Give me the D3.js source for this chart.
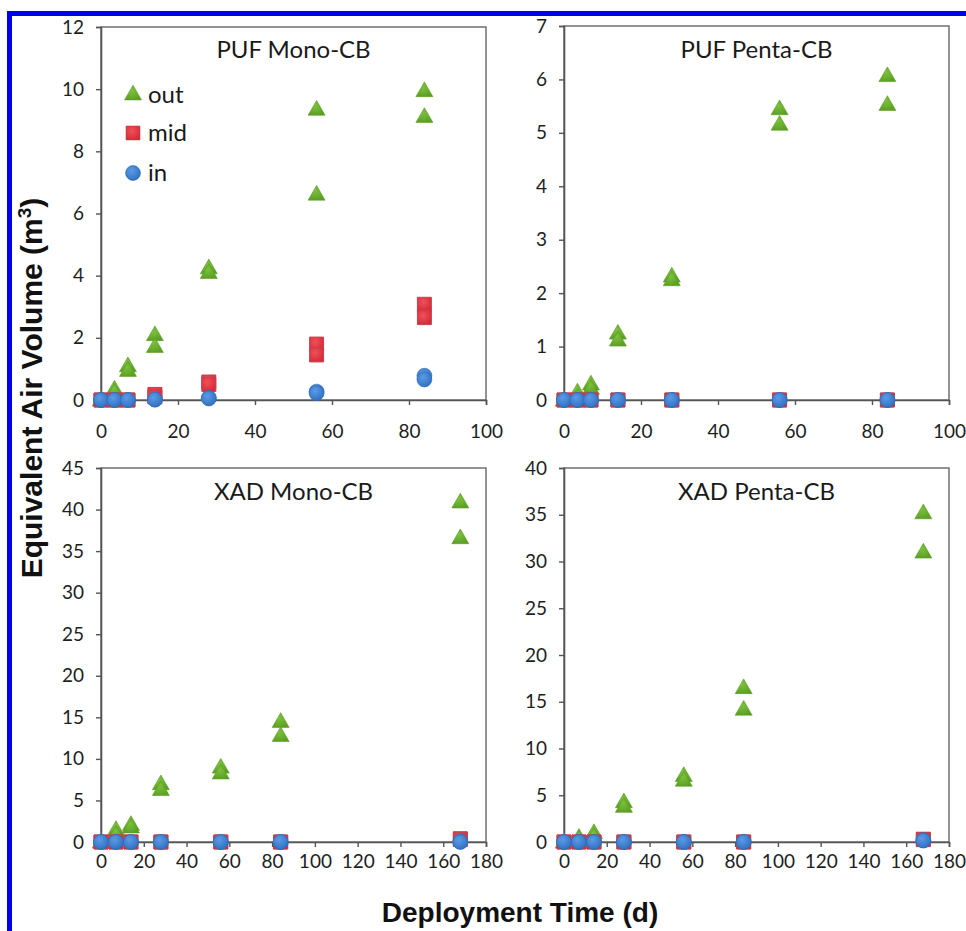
<!DOCTYPE html>
<html>
<head>
<meta charset="utf-8">
<script src="https://cdn.jsdelivr.net/npm/d3@7/dist/d3.min.js"></script>
<style>
  html, body { margin: 0; padding: 0; background: #fff; }
  svg { display: block; }
</style>
</head>
<body>
<svg id="chart" width="966" height="931"></svg>
<script>
// ---------------- DATA ----------------
const panelTitles = ["PUF Mono-CB", "PUF Penta-CB", "XAD Mono-CB", "XAD Penta-CB"];
const seriesNames = ["out", "mid", "in"];

const daysPUF = [0, 3.5, 7, 14, 28, 56, 84];
const daysXAD = [0, 7, 14, 28, 56, 84, 168];

// PUF Mono-CB (two replicates per time point)
const pufMonoOutA = [0, 0.35, 1.1, 2.1, 4.25, 9.35, 9.95];
const pufMonoOutB = [0, 0.25, 0.95, 1.72, 4.1, 6.62, 9.12];
const pufMonoMidA = [0, 0, 0, 0.18, 0.58, 1.8, 3.08];
const pufMonoMidB = [0, 0, 0, 0.1, 0.5, 1.45, 2.65];
const pufMonoInA = [0, 0, 0, 0.02, 0.07, 0.27, 0.78];
const pufMonoInB = [0, 0, 0, 0.01, 0.05, 0.22, 0.66];

// PUF Penta-CB
const pufPentaOutA = [0, 0.15, 0.3, 1.25, 2.32, 5.45, 6.07];
const pufPentaOutB = [0, 0.05, 0.22, 1.12, 2.25, 5.16, 5.53];
const pufPentaMidA = [0, 0, 0, 0, 0, 0, 0];
const pufPentaMidB = [0, 0, 0, 0, 0, 0, 0];
const pufPentaInA = [0, 0, 0, 0, 0, 0, 0];
const pufPentaInB = [0, 0, 0, 0, 0, 0, 0];

// XAD Mono-CB
const xadMonoOutA = [0, 1.5, 2.1, 7.0, 9.0, 14.5, 40.9];
const xadMonoOutB = [0, 0.9, 1.8, 6.3, 8.3, 12.8, 36.6];
const xadMonoMidA = [0, 0, 0, 0, 0, 0, 0.4];
const xadMonoMidB = [0, 0, 0, 0, 0, 0, 0.3];
const xadMonoInA = [0, 0, 0, 0, 0, 0, 0.05];
const xadMonoInB = [0, 0, 0, 0, 0, 0, 0];

// XAD Penta-CB
const xadPentaOutA = [0, 0.5, 1.0, 4.3, 7.1, 16.5, 35.2];
const xadPentaOutB = [0, 0.3, 0.6, 3.8, 6.6, 14.2, 31.0];
const xadPentaMidA = [0, 0, 0, 0, 0, 0, 0.3];
const xadPentaMidB = [0, 0, 0, 0, 0, 0, 0.25];
const xadPentaInA = [0, 0, 0, 0, 0, 0, 0.2];
const xadPentaInB = [0, 0, 0, 0, 0, 0, 0.15];

// axis ticks
const xTicksPUF = [0, 20, 40, 60, 80, 100];
const xTicksXAD = [0, 20, 40, 60, 80, 100, 120, 140, 160, 180];
const yTicksPufMono = [0, 2, 4, 6, 8, 10, 12];
const yTicksPufPenta = [0, 1, 2, 3, 4, 5, 6, 7];
const yTicksXadMono = [0, 5, 10, 15, 20, 25, 30, 35, 40, 45];
const yTicksXadPenta = [0, 5, 10, 15, 20, 25, 30, 35, 40];

const yAxisTitle = "Equivalent Air Volume (m";
const xAxisTitle = "Deployment Time (d)";

// ---------------- LAYOUT ----------------
const panels = [
  { title: panelTitles[0], days: daysPUF, xTicks: xTicksPUF, yTicks: yTicksPufMono,
    out: [pufMonoOutA, pufMonoOutB], mid: [pufMonoMidA, pufMonoMidB], inn: [pufMonoInA, pufMonoInB],
    x0: 101, x1: 486, y0: 400, y1: 27, titleY: 58, legend: true },
  { title: panelTitles[1], days: daysPUF, xTicks: xTicksPUF, yTicks: yTicksPufPenta,
    out: [pufPentaOutA, pufPentaOutB], mid: [pufPentaMidA, pufPentaMidB], inn: [pufPentaInA, pufPentaInB],
    x0: 564, x1: 949, y0: 400, y1: 26, titleY: 58, legend: false },
  { title: panelTitles[2], days: daysXAD, xTicks: xTicksXAD, yTicks: yTicksXadMono,
    out: [xadMonoOutA, xadMonoOutB], mid: [xadMonoMidA, xadMonoMidB], inn: [xadMonoInA, xadMonoInB],
    x0: 101, x1: 486, y0: 842, y1: 468, titleY: 500, legend: false },
  { title: panelTitles[3], days: daysXAD, xTicks: xTicksXAD, yTicks: yTicksXadPenta,
    out: [xadPentaOutA, xadPentaOutB], mid: [xadPentaMidA, xadPentaMidB], inn: [xadPentaInA, xadPentaInB],
    x0: 564, x1: 949, y0: 842, y1: 468, titleY: 500, legend: false }
];

const GREEN_D = "#5a9a22";
const RED_D = "#c8404f";
const BLUE_D = "#2f68b4";
const TICK_FONT = "Lato, 'Open Sans', sans-serif";

const svg = d3.select("#chart");

// defs for gradients (slight 3D look)
const defs = svg.append("defs");
function radial(id, c1, c2) {
  const g = defs.append("radialGradient").attr("id", id).attr("cx", "40%").attr("cy", "35%").attr("r", "70%");
  g.append("stop").attr("offset", "0%").attr("stop-color", c1);
  g.append("stop").attr("offset", "100%").attr("stop-color", c2);
}
radial("gBlue", "#5a9ae6", "#2f6fc0");
radial("gRed", "#f0505a", "#d42a36");
radial("gGreen", "#7cc23c", "#5a9e22");

// blue frame
svg.append("line").attr("x1", 9.5).attr("x2", 966).attr("y1", 13.5).attr("y2", 13.5)
  .attr("stroke", "#0000f0").attr("stroke-width", 5);
svg.append("line").attr("x1", 9.5).attr("x2", 9.5).attr("y1", 11).attr("y2", 931)
  .attr("stroke", "#0000f0").attr("stroke-width", 5);

const triSym = d3.symbol().type(d3.symbolTriangle).size(125);
const sqSym = d3.symbol().type(d3.symbolSquare).size(195);
const circSym = d3.symbol().type(d3.symbolCircle).size(175);

panels.forEach(p => {
  const xMax = p.xTicks[p.xTicks.length - 1];
  const yMax = p.yTicks[p.yTicks.length - 1];
  const x = d3.scaleLinear().domain([0, xMax]).range([p.x0, p.x1]);
  const y = d3.scaleLinear().domain([0, yMax]).range([p.y0, p.y1]);
  const g = svg.append("g");

  // frame (plot area border)
  g.append("rect").attr("x", p.x0).attr("y", p.y1).attr("width", p.x1 - p.x0).attr("height", p.y0 - p.y1)
    .attr("fill", "none").attr("stroke", "#707070").attr("stroke-width", 1.5);

  // y axis
  const ya = g.append("g").attr("transform", `translate(${p.x0},0)`)
    .call(d3.axisLeft(y).tickValues(p.yTicks).tickSize(5).tickPadding(12).tickFormat(d3.format("d")));
  ya.select(".domain").attr("stroke", "#555").attr("stroke-width", 1.6);
  ya.selectAll(".tick line").attr("stroke", "#555").attr("stroke-width", 1.4);
  ya.selectAll("text").attr("font-family", TICK_FONT).attr("font-size", 19).attr("fill", "#1e1e1e");

  // x axis
  const xa = g.append("g").attr("transform", `translate(0,${p.y0})`)
    .call(d3.axisBottom(x).tickValues(p.xTicks).tickSize(5).tickPadding(p.days === daysPUF ? 20 : 8).tickFormat(d3.format("d")));
  xa.select(".domain").attr("stroke", "#555").attr("stroke-width", 1.6);
  xa.selectAll(".tick line").attr("stroke", "#555").attr("stroke-width", 1.4);
  xa.selectAll("text").attr("font-family", TICK_FONT).attr("font-size", 19).attr("fill", "#1e1e1e");

  // title
  g.append("text").attr("x", (p.x0 + p.x1) / 2).attr("y", p.titleY).attr("text-anchor", "middle")
    .attr("font-family", TICK_FONT).attr("font-size", 24).attr("fill", "#1a1a1a").text(p.title);

  // points: out (triangles), mid (squares), in (circles)
  const pts = (arrs) => arrs.flatMap(a => a.map((v, i) => ({ t: p.days[i], v })));
  g.append("g").selectAll("path").data(pts(p.out)).join("path")
    .attr("d", triSym).attr("transform", d => `translate(${x(d.t)},${y(d.v) + 1})`)
    .attr("fill", "url(#gGreen)").attr("stroke", GREEN_D).attr("stroke-width", 0.6);
  g.append("g").selectAll("path").data(pts(p.mid)).join("path")
    .attr("d", sqSym).attr("transform", d => `translate(${x(d.t)},${y(d.v)})`)
    .attr("fill", "url(#gRed)").attr("stroke", RED_D).attr("stroke-width", 1);
  g.append("g").selectAll("path").data(pts(p.inn)).join("path")
    .attr("d", circSym).attr("transform", d => `translate(${x(d.t)},${y(d.v)})`)
    .attr("fill", "url(#gBlue)").attr("stroke", BLUE_D).attr("stroke-width", 0.6);

  if (p.legend) {
    const lg = g.append("g");
    const items = [
      { name: seriesNames[0], sym: triSym, fill: "url(#gGreen)", stroke: GREEN_D, yy: 95 },
      { name: seriesNames[1], sym: sqSym, fill: "url(#gRed)", stroke: RED_D, yy: 133 },
      { name: seriesNames[2], sym: circSym, fill: "url(#gBlue)", stroke: BLUE_D, yy: 173 }
    ];
    items.forEach(it => {
      lg.append("path").attr("d", it.sym).attr("transform", `translate(133,${it.yy})`)
        .attr("fill", it.fill).attr("stroke", it.stroke).attr("stroke-width", 0.6);
      lg.append("text").attr("x", 148).attr("y", it.yy).attr("dy", "0.35em")
        .attr("font-family", TICK_FONT).attr("font-size", 24).attr("fill", "#1a1a1a").text(it.name);
    });
  }
});

// axis titles
const yt = svg.append("text")
  .attr("transform", "translate(42,388) rotate(-90)")
  .attr("text-anchor", "middle")
  .attr("font-family", "'Liberation Sans', Arial, sans-serif").attr("font-weight", "bold")
  .attr("font-size", 30).attr("fill", "#111");
yt.append("tspan").text(yAxisTitle);
yt.append("tspan").attr("dy", -11).attr("font-size", 19).text("3");
yt.append("tspan").attr("dy", 11).text(")");

svg.append("text").attr("x", 520).attr("y", 922).attr("text-anchor", "middle")
  .attr("font-family", "'Liberation Sans', Arial, sans-serif").attr("font-weight", "bold")
  .attr("font-size", 28).attr("fill", "#111").text(xAxisTitle);
</script>
</body>
</html>
